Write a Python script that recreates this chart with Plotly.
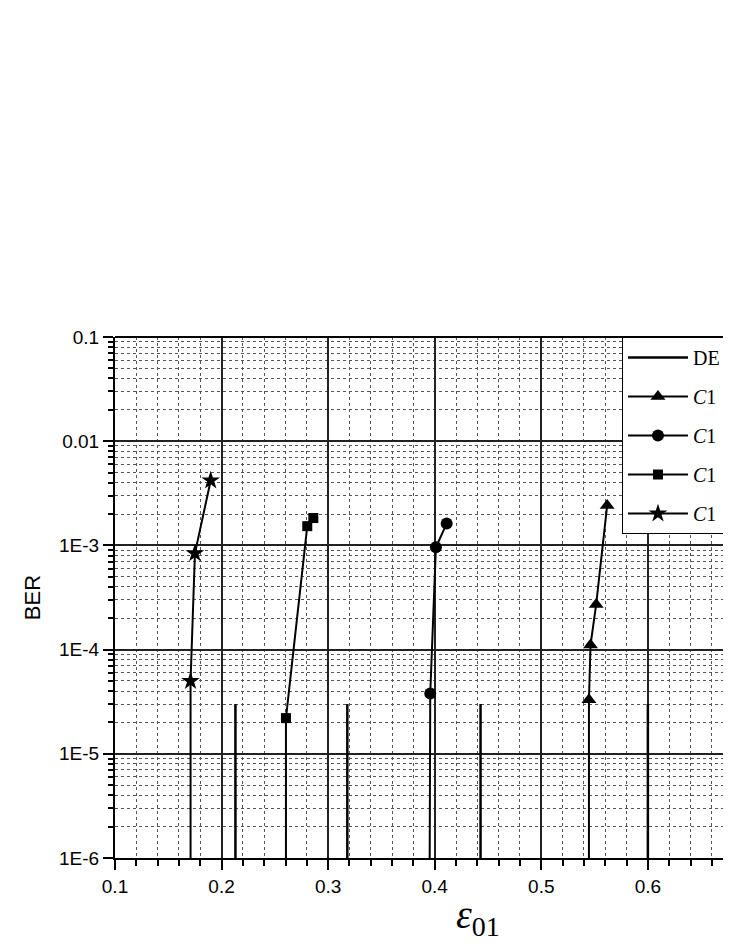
import plotly.graph_objects as go

# DE thresholds (vertical markers)
de_x = [0.213, 0.318, 0.443, 0.600]
de_top = 3e-5
de_bottom = 1e-8

# C1 curves (last point sits below the plotted range)
tri_x = [0.5618, 0.5515, 0.5462, 0.5447, 0.5447]
tri_y = [2.42e-3, 2.71e-4, 1.11e-4, 3.3e-5, 1e-8]

circ_x = [0.4112, 0.4011, 0.3958, 0.3946]
circ_y = [1.62e-3, 9.6e-4, 3.8e-5, 1e-8]

sq_x = [0.2861, 0.2804, 0.2604, 0.2604]
sq_y = [1.83e-3, 1.53e-3, 2.2e-5, 1e-8]

star_x = [0.1898, 0.1750, 0.1709, 0.1709]
star_y = [4.2e-3, 8.4e-4, 5.0e-5, 1e-8]

x_ticks = [0.1, 0.2, 0.3, 0.4, 0.5, 0.6]
y_ticks = [1e-1, 1e-2, 1e-3, 1e-4, 1e-5, 1e-6]
y_ticktext = ["0.1", "0.01", "1E-3", "1E-4", "1E-5", "1E-6"]

fig = go.Figure()

# DE: one trace with gaps between the vertical segments
dx, dy = [], []
for x in de_x:
    dx += [x, x, None]
    dy += [de_bottom, de_top, None]
fig.add_trace(go.Scatter(x=dx, y=dy, mode="lines", name="DE", legendgroup="a",
                         line=dict(color="black", width=2.5)))

series = [
    (tri_x, tri_y, "triangle-up", 13, "b"),
    (circ_x, circ_y, "circle", 12, "c"),
    (sq_x, sq_y, "square", 10, "d"),
    (star_x, star_y, "star", 14, "e"),
]
for xs, ys, sym, size, grp in series:
    fig.add_trace(go.Scatter(
        x=xs, y=ys, mode="lines+markers", name="<i>C</i>1", legendgroup=grp,
        line=dict(color="black", width=2),
        marker=dict(symbol=sym, size=size, color="black"),
    ))

fig.update_xaxes(
    range=[0.1, 0.678], tickvals=x_ticks, ticktext=[str(v) for v in x_ticks],
    showline=True, linecolor="black", linewidth=2,
    ticks="outside", ticklen=10, tickwidth=2, tickcolor="black",
    showgrid=True, gridcolor="#222", gridwidth=1.5, zeroline=False,
    tickfont=dict(family="Liberation Sans", size=19, color="black"),
    minor=dict(dtick=0.02, showgrid=True, gridcolor="#555", griddash="dot", gridwidth=1,
               ticks="outside", ticklen=6, tickwidth=1.5, tickcolor="black"),
)
fig.update_yaxes(
    type="log", range=[-6, -1], tickvals=y_ticks, ticktext=y_ticktext,
    showline=True, linecolor="black", linewidth=2,
    ticks="outside", ticklen=10, tickwidth=2, tickcolor="black",
    showgrid=True, gridcolor="#222", gridwidth=1.5, zeroline=False,
    tickfont=dict(family="Liberation Sans", size=19, color="black"),
    title=dict(text="BER", font=dict(family="Liberation Sans", size=22, color="black"), standoff=12),
    minor=dict(dtick="D1", showgrid=True, gridcolor="#555", griddash="dot", gridwidth=1,
               ticks="outside", ticklen=5, tickwidth=1.5, tickcolor="black"),
)

# top frame line
fig.add_shape(type="line", xref="paper", yref="paper", x0=0, x1=1, y0=1, y1=1,
              line=dict(color="black", width=2))

fig.add_annotation(
    text="<i>ε</i><sub>01</sub>",
    xref="paper", yref="paper", x=0.589, y=-0.062, xanchor="center", yanchor="top",
    showarrow=False, font=dict(family="Liberation Serif", size=40, color="black"),
)

# the page body adds an 8px margin, so the figure is sized to end at the window edge
fig.update_layout(
    width=723, height=938,
    margin=dict(l=107, r=0, t=329, b=88),
    paper_bgcolor="white", plot_bgcolor="white",
    legend=dict(
        x=0.823, y=1, xanchor="left", yanchor="top",
        bordercolor="black", borderwidth=1, bgcolor="white",
        font=dict(family="Liberation Serif", size=20, color="black"),
        itemwidth=60, tracegroupgap=10,
    ),
)

fig.write_html("out.html")
